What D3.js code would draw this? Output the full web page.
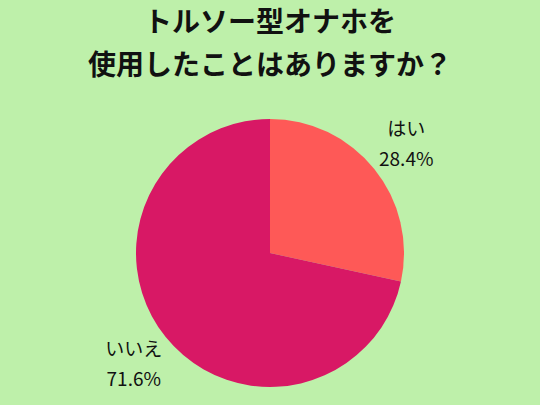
<!DOCTYPE html>
<html>
<head>
<meta charset="utf-8">
<script src="https://cdn.jsdelivr.net/npm/d3@7"></script>
<style>
  html, body { margin: 0; padding: 0; background: #bef0aa; }
  svg { display: block; }
  text { font-family: "Noto Sans CJK JP", "Noto Sans", sans-serif; fill: #111; }
</style>
</head>
<body>
<div id="chart"></div>
<script>
  const titleLines = ["トルソー型オナホを", "使用したことはありますか？"];
  const labels = ["はい", "いいえ"];
  const values = [28.4, 71.6];
  const colors = ["#fe5957", "#d81865"];

  const width = 540, height = 405;
  const cx = 270, cy = 253, radius = 134, labelRadius = 175;

  const svg = d3.select("#chart").append("svg")
      .attr("width", width).attr("height", height);

  svg.append("rect").attr("width", width).attr("height", height).attr("fill", "#bef0aa");

  svg.selectAll(".title").data(titleLines).enter().append("text")
      .attr("class", "title")
      .attr("x", width / 2)
      .attr("y", (d, i) => 32 + i * 43)
      .attr("text-anchor", "middle")
      .attr("font-size", 28)
      .attr("font-weight", "bold")
      .text(d => d);

  const data = labels.map((l, i) => ({ label: l, value: values[i], color: colors[i] }));

  const pie = d3.pie().value(d => d.value).sort(null);
  const arc = d3.arc().innerRadius(0).outerRadius(radius);
  const labelArc = d3.arc().innerRadius(labelRadius).outerRadius(labelRadius);

  const g = svg.append("g").attr("transform", `translate(${cx},${cy})`);
  const arcs = pie(data);

  g.selectAll("path").data(arcs).enter().append("path")
      .attr("d", arc)
      .attr("fill", d => d.data.color);

  const lbl = g.selectAll(".lbl").data(arcs).enter().append("text")
      .attr("class", "lbl")
      .attr("text-anchor", "middle")
      .attr("font-size", 19)
      .attr("transform", d => `translate(${labelArc.centroid(d)})`);
  lbl.append("tspan").attr("x", 0).attr("y", -7).text(d => d.data.label);
  lbl.append("tspan").attr("x", 0).attr("y", 23).text(d => d.data.value.toFixed(1) + "%");
</script>
</body>
</html>
